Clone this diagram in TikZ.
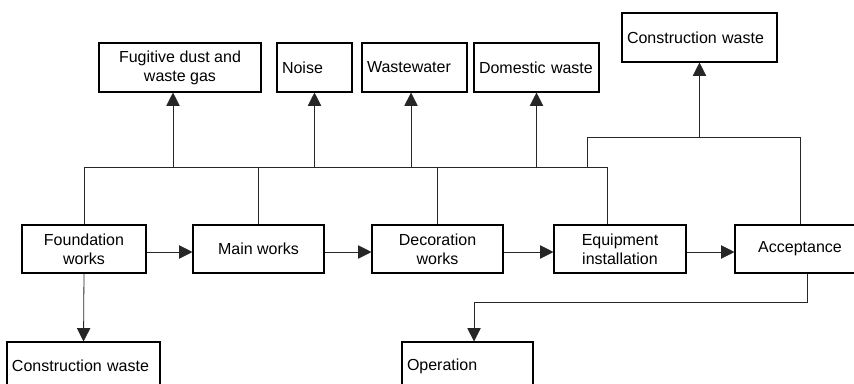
\documentclass[tikz,border=0pt]{standalone}
\usepackage{fontspec}
\setmainfont{Liberation Sans}
\usetikzlibrary{arrows.meta}
\begin{document}
\begin{tikzpicture}[x=0.75pt,y=-0.75pt,
    box/.style={draw=black, line width=0.8pt, inner xsep=3.75pt, inner ysep=0pt,
        font=\fontsize{12}{14.3}\selectfont},
    midbox/.style={box, align=center, minimum height=36pt},
    lbox/.style={box, align=left, minimum height=36.75pt},
    line/.style={draw=black!85, line width=0.6pt},
    arr/.style={line, -{Triangle[length=10pt,width=10pt]}}]
    \useasboundingbox (0,0) rectangle (854,383);
    \clip (0,0) rectangle (854,383);
    % emissions
    \node[box, align=center, minimum width=121.5pt, minimum height=36.75pt] (fug) at (180,67.5) {Fugitive dust and\\waste gas};
    \node[lbox, text width=48.75pt] (noise) at (314.5,67.5) {Noise};
    \node[lbox, text width=71.25pt] (ww) at (414.5,67.5) {Wastewater};
    \node[lbox, text width=86.25pt] (dom) at (536.5,67.5) {Domestic waste};
    \node[lbox, text width=108.75pt] (cwtop) at (699.5,37.5) {Construction waste};
    % stages
    \node[midbox, minimum width=93pt] (found) at (84,249) {Foundation\\works};
    \node[midbox, minimum width=98.25pt] (main) at (258.5,249) {Main works};
    \node[midbox, minimum width=98.25pt] (decor) at (437.5,249) {Decoration\\works};
    \node[midbox, minimum width=99pt] (equip) at (620,249) {Equipment\\installation};
    \node[midbox, minimum width=97.5pt] (accept) at (800,249) {Acceptance};
    % bottom
    \node[lbox, text width=107.25pt, minimum height=36pt] (cwbot) at (83.5,366) {Construction waste};
    \node[lbox, text width=90.75pt, minimum height=36pt] (oper) at (467.5,366) {Operation};
    \coordinate (j1) at (607,167);
    \coordinate (j2) at (587,137);
    \coordinate (j3) at (0,302);
    % lower bus
    \draw[line] (found.north) |- (j1) -- (j1 |- equip.north);
    \draw[line] (main.north) -- (main.north |- j1);
    \draw[line] (decor.north) -- (decor.north |- j1);
    \draw[arr] ([xshift=-5.25pt]fug.south |- j1) -- ([xshift=-5.25pt]fug.south);
    \draw[arr] (noise.south |- j1) -- (noise.south);
    \draw[arr] ([xshift=-2.6pt]ww.south |- j1) -- ([xshift=-2.6pt]ww.south);
    \draw[arr] (dom.south |- j1) -- (dom.south);
    % upper bus
    \draw[line] (j2 |- j1) -- (j2) -| (accept.north);
    \draw[arr] (cwtop.south |- j2) -- (cwtop.south);
    % main flow
    \draw[arr] ([yshift=-2.25pt]found.east) -- ([yshift=-2.25pt]main.west);
    \draw[arr] ([yshift=-2.25pt]main.east) -- ([yshift=-2.25pt]decor.west);
    \draw[arr] ([yshift=-2.25pt]decor.east) -- ([yshift=-2.25pt]equip.west);
    \draw[arr] ([yshift=-2.25pt]equip.east) -- ([yshift=-2.25pt]accept.west);
    \draw[arr] (found.south) -- (cwbot.north);
    \draw[arr] ([xshift=5.25pt]accept.south) -- ([xshift=5.25pt]accept.south |- j3) -| ([xshift=4.9pt]oper.north);
\end{tikzpicture}
\end{document}
